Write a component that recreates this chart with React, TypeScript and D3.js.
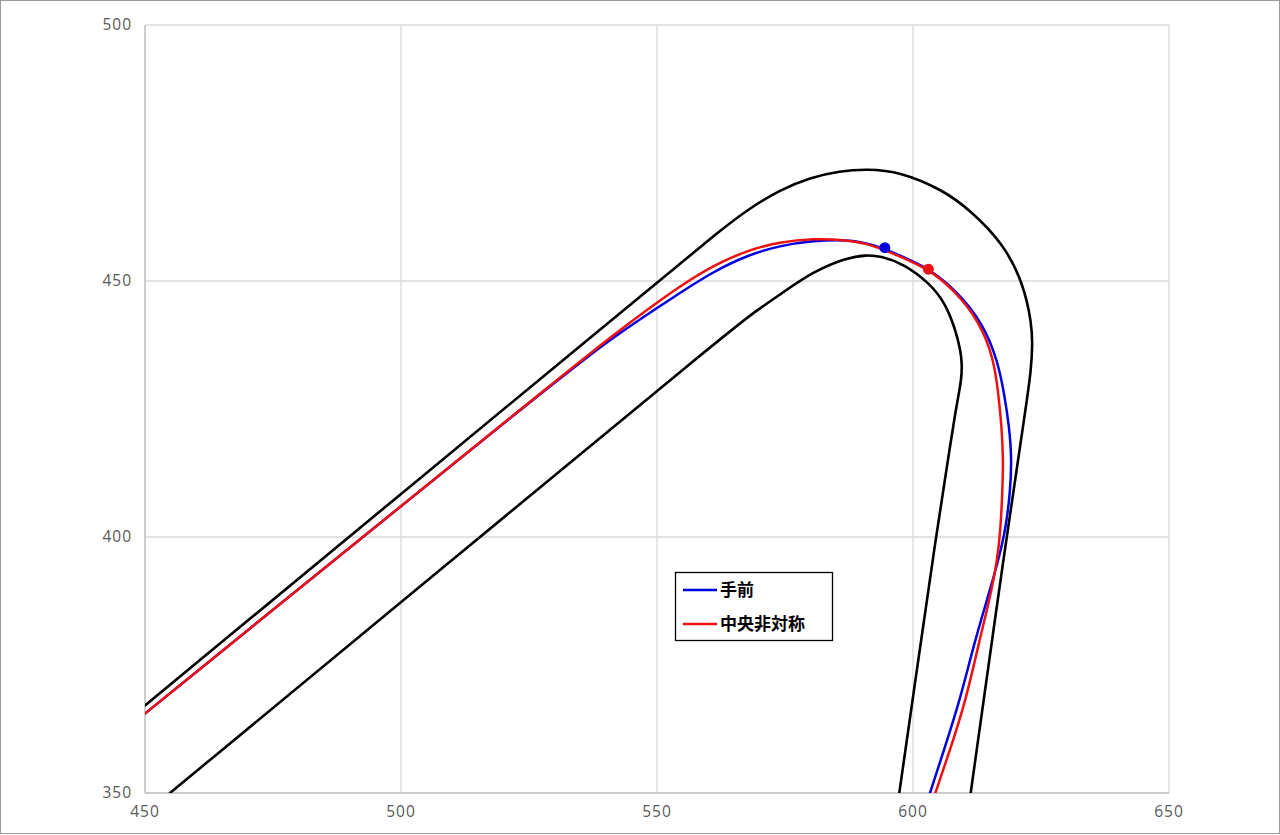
import React from "react";
import * as d3 from "d3";

const xTicks = [450, 500, 550, 600, 650];
const yTicks = [350, 400, 450, 500];

const outerX = [450, 550.59, 562.3, 568.16, 574.02, 579.88, 585.74, 590.82, 597.46, 605.86, 611.13, 617.64, 621.54, 623.18, 623.34, 623.05, 622.27, 618.16, 611.27];
const outerY = [367.09, 450.2, 459.86, 464.26, 467.77, 470.21, 471.48, 471.88, 471.39, 467.77, 463.87, 457.36, 449.55, 441.74, 437.5, 432.62, 426.76, 399.41, 350];

const innerX = [454.88, 509.57, 564.26, 569.47, 574.02, 580.53, 587.05, 590.96, 593.55, 598.11, 603.32, 606.25, 608.2, 609.28, 609.6, 609.42, 608.89, 608.3, 607.42, 604.39, 600.98, 597.32];
const innerY = [350, 395.18, 440.33, 444.24, 447.36, 451.86, 454.59, 455.08, 454.88, 453.42, 449.51, 445.7, 440.82, 436.52, 433.59, 430.66, 427.73, 424.41, 418.95, 399.41, 375.59, 350];

const blueX = [450, 530.41, 540.82, 554.49, 561.0, 567.52, 574.02, 580.53, 587.05, 592.25, 598.11, 602.99, 608.2, 613.73, 616.6, 617.8, 618.8, 619.3, 618.95, 618.16, 616.89, 615.04, 612.11, 609.18, 606.05, 603.32];
const blueY = [365.53, 430.66, 438.67, 447.71, 451.82, 454.98, 456.93, 457.87, 458.11, 457.23, 454.69, 452.44, 448.44, 441.74, 434.18, 428.07, 421.54, 415.04, 408.54, 402.01, 396.29, 389.65, 379.88, 368.16, 358.4, 350];

const redX = [450, 530.41, 540.82, 554.49, 561.0, 567.52, 574.02, 580.53, 587.05, 592.25, 598.11, 602.99, 607.87, 613.09, 615.82, 616.66, 617.32, 617.64, 617.44, 617.13, 616.5, 614.94, 612.99, 610.35, 607.23, 604.36];
const redY = [365.53, 430.66, 439.02, 449.12, 453.03, 455.96, 457.62, 458.3, 458.01, 457.03, 454.49, 452.29, 448.44, 441.99, 434.57, 428.07, 421.54, 415.04, 408.54, 402.01, 395.51, 387.7, 379.88, 368.16, 358.4, 350];

const markerBlue = [594.5, 456.5];
const markerRed = [603.0, 452.3];

const legendLabels = ["手前", "中央非対称"];
const seriesColors = ["#0000e0", "#ee1111"];

const W = 1280, H = 835;
const L = 145, R = 1169, T = 25, B = 793;

export default function App() {
  const x = d3.scaleLinear().domain([450, 650]).range([L, R]);
  const y = d3.scaleLinear().domain([350, 500]).range([B, T]);
  const line = d3
    .line<[number, number]>()
    .x((d) => x(d[0]))
    .y((d) => y(d[1]))
    .curve(d3.curveBasis);
  const zip = (a: number[], b: number[]) => a.map((v, i) => [v, b[i]] as [number, number]);

  const tickFont = "'Open Sans', 'DejaVu Sans', sans-serif";
  const cjk = "'Noto Sans CJK JP', sans-serif";

  return (
    <svg width={W} height={H} style={{ position: "absolute", left: 0, top: 0, background: "#fff" }}>
      <rect x={0.5} y={0.5} width={W - 1} height={H - 2} fill="#fff" stroke="#9a9a9a" strokeWidth={1} />
      <defs>
        <clipPath id="plot">
          <rect x={L} y={T} width={R - L} height={B - T} />
        </clipPath>
      </defs>
      {xTicks.map((t) => (
        <line key={"gx" + t} x1={x(t)} x2={x(t)} y1={T} y2={B} stroke="#d9d9d9" strokeWidth={1.3} />
      ))}
      {yTicks.map((t) => (
        <line key={"gy" + t} x1={L} x2={R} y1={y(t)} y2={y(t)} stroke="#d9d9d9" strokeWidth={1.3} />
      ))}
      <line x1={L} x2={L} y1={T} y2={B} stroke="#c4c4c4" strokeWidth={1.5} />
      <line x1={L} x2={R} y1={B} y2={B} stroke="#c4c4c4" strokeWidth={1.5} />
      {xTicks.map((t) => (
        <text key={"tx" + t} x={x(t)} y={B + 24} textAnchor="middle" fontFamily={tickFont} fontSize={15.5} fill="#595959" letterSpacing={1}>
          {t}
        </text>
      ))}
      {yTicks.map((t) => (
        <text key={"ty" + t} x={L - 13} y={y(t) + 5} textAnchor="end" fontFamily={tickFont} fontSize={15.5} fill="#595959" letterSpacing={1}>
          {t}
        </text>
      ))}
      <g clipPath="url(#plot)" fill="none" strokeLinecap="round" strokeLinejoin="round">
        <path d={line(zip(outerX, outerY)) || ""} stroke="#000" strokeWidth={2.6} />
        <path d={line(zip(innerX, innerY)) || ""} stroke="#000" strokeWidth={2.6} />
        <path d={line(zip(blueX, blueY)) || ""} stroke={seriesColors[0]} strokeWidth={2.5} />
        <path d={line(zip(redX, redY)) || ""} stroke={seriesColors[1]} strokeWidth={2.5} />
      </g>
      <circle cx={x(markerBlue[0])} cy={y(markerBlue[1])} r={5.5} fill={seriesColors[0]} />
      <circle cx={x(markerRed[0])} cy={y(markerRed[1])} r={5.5} fill={seriesColors[1]} />
      <g>
        <rect x={675.5} y={572.5} width={157} height={68} fill="#fff" stroke="#000" strokeWidth={1.3} />
        {legendLabels.map((lab, i) => (
          <g key={lab}>
            <line x1={683} x2={717} y1={590 + i * 34} y2={590 + i * 34} stroke={seriesColors[i]} strokeWidth={2.5} />
            <text x={720} y={596 + i * 34} fontFamily={cjk} fontWeight="bold" fontSize={17} fill="#000">
              {lab}
            </text>
          </g>
        ))}
      </g>
    </svg>
  );
}
